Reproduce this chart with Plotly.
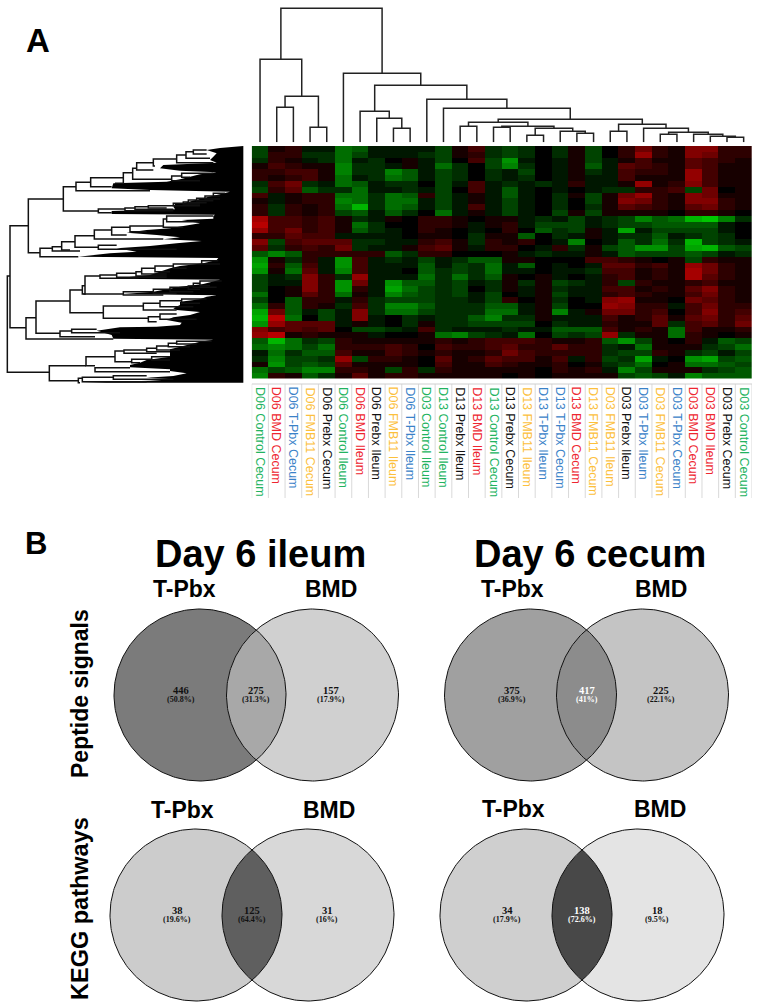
import numpy as np
import plotly.graph_objects as go

W, H = 760, 1004

# ---------- data ----------
column_labels = ["D06 Control Cecum", "D06 BMD Cecum", "D06 T-Pbx Cecum", "D06 FMB11 Cecum", "D06 Prebx Cecum",
                 "D06 Control Ileum", "D06 BMD Ileum", "D06 Prebx Ileum", "D06 FMB11 Ileum", "D06 T-Pbx Ileum",
                 "D03 Control Ileum", "D13 Control Ileum", "D13 Prebx Ileum", "D13 BMD Ileum", "D13 Control Cecum",
                 "D13 Prebx Cecum", "D13 FMB11 Ileum", "D13 T-Pbx Ileum", "D13 T-Pbx Cecum", "D13 BMD Cecum",
                 "D13 FMB11 Cecum", "D03 FMB11 Ileum", "D03 Prebx Ileum", "D03 T-Pbx Ileum", "D03 FMB11 Cecum",
                 "D03 T-Pbx Cecum", "D03 BMD Cecum", "D03 BMD Ileum", "D03 Prebx Cecum", "D03 Control Cecum"]

heat_left = [
    [-3,1,2,-1,-1,-5,-4,-1,-1,-1,-1,-3,1,3,-2],
    [-3,2,2,-2,-2,-5,-3,-1,-1,-1,-2,-3,1,2,-2],
    [-2,2,1,-1,-2,-5,-1,-2,0,1,-1,-3,0,3,-3],
    [1,3,2,1,1,-6,-2,-2,-1,1,-1,-5,-2,0,-3],
    [2,2,3,3,1,-6,-2,-2,-6,-4,-1,-3,-2,0,-2],
    [2,1,2,3,1,-5,-1,-2,-5,-4,-1,-3,-2,0,-2],
    [-2,3,5,-2,-1,-5,-4,-1,-2,-2,0,-3,-1,3,-1],
    [-3,2,4,-4,-2,-2,-5,-1,-1,-2,-1,-3,0,3,-1],
    [3,-1,1,2,2,-5,-5,-2,-5,-4,2,-3,-1,1,-1],
    [1,-1,1,2,2,-6,-5,-2,-5,-5,-1,-3,-1,1,-1],
    [2,-2,2,1,2,-5,-9,-2,-5,-4,-1,-3,-1,3,-1],
    [2,-2,2,1,2,-3,-4,-1,-4,-2,0,-5,-1,1,-1],
    [8,3,3,2,3,1,-2,-1,1,0,2,2,1,0,1],
    [9,3,3,2,3,1,-5,-2,0,0,2,2,1,-1,1],
    [7,3,5,2,3,1,-4,-2,-1,0,2,1,0,-1,0],
    [2,2,4,3,3,-1,-1,-1,-1,0,1,1,0,-2,1],
    [6,-3,3,4,4,4,-2,-2,-1,-1,2,3,1,-2,2],
    [4,-2,2,3,2,5,-2,-1,-1,1,3,4,1,-1,2],
    [-4,-6,-4,2,2,2,2,2,-4,-2,2,2,0,0,0],
    [-7,1,-2,2,-1,-7,3,-1,-2,-1,-3,-1,-2,-4,-4],
    [-8,2,-4,3,-1,-7,3,-1,-1,-1,-4,-1,-3,-2,-5],
    [-7,1,-5,4,-1,-6,3,-1,-1,0,-4,-2,-3,-2,-5],
    [-3,-1,-2,6,2,-2,7,-1,-1,-1,-5,-2,-5,-2,-4],
    [-3,-1,-1,6,2,-7,5,-1,-7,-4,-4,-2,-3,-1,-2],
    [-3,0,1,6,2,-7,2,-1,-8,-5,-3,-2,-3,0,-2],
    [-5,0,1,4,2,-5,1,-1,-6,-4,-3,-2,-3,-1,-3],
    [-3,0,-4,2,2,-1,2,-2,-3,-3,-3,-2,-2,-1,-3],
    [-5,2,-4,2,1,-2,3,-2,-6,-6,-4,-2,-2,-2,-4],
    [-8,5,-4,-1,-3,-1,6,-2,-5,-5,-3,-2,-2,-2,-5],
    [-9,9,-5,0,-3,-1,6,-1,0,-2,-1,-2,-2,-4,-6],
    [-7,7,4,4,4,-1,1,-1,0,-2,1,-2,-2,-3,-3],
    [6,3,4,3,4,0,-3,-3,-2,-1,3,-2,-1,-1,-1],
    [7,9,1,2,1,1,1,-1,0,0,1,-5,-6,-3,-2],
    [-4,-9,-5,-2,-3,2,1,1,1,1,1,2,1,2,3],
    [-5,-6,-5,-3,-5,2,2,2,3,2,0,3,2,2,3],
    [-1,-5,-2,-4,-4,3,1,1,3,2,1,2,1,1,2],
    [-2,-6,-3,-3,-2,7,-3,2,2,1,0,4,1,2,4],
    [1,-7,-3,-4,-3,4,1,1,1,1,0,3,1,1,3],
    [-5,-3,-4,-6,-6,2,2,1,-3,2,-2,2,1,1,1],
    [-6,2,1,-4,-2,1,4,1,2,2,1,1,1,1,1],
]
heat_right = [
    [-3,-2,0,-2,1,-3,0,2,5,2,1,6,6,2,2],
    [-3,-2,0,-2,1,-3,0,2,7,2,1,6,5,2,2],
    [-7,-1,0,-1,1,-3,-1,1,3,1,1,4,3,2,1],
    [-6,-2,0,-1,1,-4,-1,4,3,2,1,4,3,1,1],
    [-1,-3,0,-1,1,-2,-1,3,2,2,1,7,3,1,1],
    [-1,-2,0,-1,1,-1,-1,3,1,1,1,7,3,1,1],
    [-2,-1,-2,-1,2,-1,-1,1,7,1,2,6,3,1,1],
    [-4,-1,0,-1,0,-1,-2,-2,2,2,3,-3,5,0,1],
    [-4,-1,0,-2,1,-3,1,5,7,2,1,6,5,1,1],
    [-3,-1,0,-2,0,-3,1,6,5,2,1,6,6,2,1],
    [-3,-1,0,-2,0,-2,1,4,3,2,1,4,5,2,1],
    [-3,-1,0,-3,1,-3,1,1,1,1,0,2,2,1,0],
    [1,-1,-2,-1,-3,-1,-2,-3,-6,-4,-5,-9,-10,-6,-2],
    [2,-1,-3,-3,-3,-1,-2,-3,-3,-4,-4,-4,-4,-1,0],
    [2,0,-4,-2,-3,1,-1,-8,-1,-3,-3,-3,-3,-1,0],
    [1,-4,0,-2,-1,1,-1,-2,-2,-4,-1,-2,-3,-2,0],
    [1,2,0,-1,-6,0,-1,-4,-2,-5,-2,-9,-3,-2,-1],
    [2,0,-1,2,-2,1,-3,-4,-7,-7,-3,-8,-9,-4,-3],
    [1,-1,-2,-1,-1,1,-1,-4,-3,-3,-3,-4,-3,-1,-2],
    [1,1,0,0,0,3,3,2,1,0,1,-3,2,1,1],
    [-1,-4,0,-1,0,-1,4,4,2,3,1,7,5,2,1],
    [-1,-1,0,-1,-1,-2,3,3,1,2,1,8,5,2,1],
    [1,0,1,-1,0,-1,2,3,1,2,1,8,4,2,1],
    [1,-2,1,-3,-2,-1,2,-3,2,1,1,2,3,1,1],
    [1,-1,1,-2,-1,-1,3,3,1,2,1,4,6,2,1],
    [0,-1,1,-3,-1,-1,2,3,2,1,1,3,5,2,1],
    [2,0,1,-2,0,-1,6,7,1,1,0,5,4,2,1],
    [-4,-1,1,-3,0,0,7,6,2,2,-1,3,5,2,2],
    [-5,-1,1,-6,-1,1,5,5,2,3,0,3,6,2,3],
    [-2,-2,1,-1,-1,-1,3,1,2,4,1,4,5,2,4],
    [-3,-3,0,-2,-1,-1,2,1,1,4,-2,3,4,2,5],
    [-2,-1,-1,-4,-4,-4,3,1,2,1,-5,3,1,1,2],
    [-1,-5,0,-3,-2,-3,7,-2,1,1,-5,2,1,0,1],
    [3,3,2,1,1,2,-4,-7,-3,1,0,2,-1,-4,-3],
    [4,2,2,4,2,2,-2,-1,-5,1,1,1,-2,-3,-5],
    [5,3,2,2,2,2,-2,-3,-3,2,1,-2,-3,-1,-3],
    [3,3,1,3,-1,2,-3,-2,-8,-1,0,-7,-8,-3,-4],
    [2,1,1,2,0,1,-2,-3,-5,0,1,-5,-5,-4,-3],
    [1,1,0,2,1,2,-1,-6,-3,1,1,1,-2,-3,-4],
    [0,1,0,1,1,1,1,-3,-4,-3,-1,-6,-4,-4,-4],
]

# column tree: [height, left, right]; integers are leaves
column_tree = [134,
    [83, 0, [46, [35, 1, 2], [15, 3, 4]]],
    [69, 5,
        [57,
            [31, 6, [24, 7, [14, 8, 9]]],
            [43, 10,
                [34, 11,
                    [23,
                        [20, [16, 12, 13],
                             [16, [15, 14, 15], [14, [7, 16, 17], [11, 18, [9, 19, 20]]]]],
                        [18, [11, 21, 22],
                             [14, 23, [10, [8, 24, 25], [8, 26, [6, 27, [5, 28, 29]]]]]]]]]]]]

# row tree merges: parent depth, upper row, lower row, upper child depth, lower child depth
row_merges = [
    (22,408,697,30,148),(30,257,563,85,78),(85,177,338,190,120),(190,140,213,228,295),(228,127,152,272,450),
    (272,113,140,370,335),(370,98,130,398,345),(398,85,118,410,515),(410,68,90,460,460),(460,57,78,530,465),
    (530,45,68,558,640),(558,35,55,580,630),(580,30,42,620,620),(515,108,122,545,600),(545,100,112,640,570),
    (295,207,218,375,335),(375,204,212,405,520),(405,200,208,445,520),(445,197,204,520,500),(520,190,197,550,600),
    (550,186,192,565,600),(565,180,188,590,620),(590,175,182,615,640),(615,168,177,640,660),(640,160,168,675,660),
    (120,325,350,157,235),(157,320,333,185,240),(185,305,330,225,210),(225,287,322,283,295),(283,270,297,335,490),
    (335,262,285,390,380),(390,258,275,490,440),(490,237,262,500,550),(500,228,245,640,600),(295,316,328,350,530),
    (78,533,597,108,340),(108,483,580,210,180),(210,450,518,247,310),(247,437,462,255,370),(255,408,462,300,250),
    (300,405,415,350,400),(350,400,412,408,500),(408,395,408,425,500),(425,385,402,465,500),(465,378,395,520,510),
    (520,372,385,605,560),(605,362,372,655,660),(370,455,465,460,490),(460,448,460,510,530),(510,442,455,565,580),
    (565,438,448,580,600),(580,430,442,600,650),(600,423,437,665,630),(310,498,535,430,445),(430,490,510,480,530),
    (480,482,500,545,580),(545,477,490,620,600),(445,530,545,480,470),(480,522,538,530,590),(180,573,590,215,285),
    (215,568,578,290,360),(148,677,722,258,235),(258,650,677,345,285),(345,633,665,372,395),(372,630,640,440,470),
    (440,625,635,470,510),(470,618,630,505,540),(505,610,620,530,570),(530,604,612,635,590),(395,658,668,455,420),
    (455,650,660,510,510),(285,683,695,390,510),(235,715,728,247,240),(247,712,725,340,440),(340,707,718,440,520),
]
# where the densely packed row leaves begin, row by row
mass_rows = [18,24,30,40,50,60,68,75,85,92,97,103,110,118,125,130,145,150,155,
             158,165,172,180,187,192,200,208,213,222,224,
             228,236,240,250,258,265,270,278,285,292,298,303,310,318,325,335,340,350,354,
             360,370,378,385,395,405,412,416,419,
             425,432,440,448,455,462,466,
             470,478,485,495,505,510,516,525,532,540,548,555,560,562,572,585,596,599,
             605,612,620,628,640,650,660,668,675,682,688,693,700,708,713,718,722,728]
mass_depth = [730,660,620,650,640,630,650,490,480,540,650,600,570,540,500,340,335,450,690,
              675,650,620,590,560,525,520,525,335,335,645,
              640,640,545,600,550,510,440,380,470,540,490,605,530,450,350,410,330,235,655,
              650,610,540,510,480,450,380,350,660,
              640,610,540,490,460,370,650,
              620,600,540,540,520,530,600,570,520,500,545,540,470,360,290,335,340,640,
              600,570,540,510,510,510,440,420,390,390,510,510,560,520,440,520,450,240]

venn_titles = ["Day 6 ileum", "Day 6 cecum"]
venn_sets = ["T-Pbx", "BMD"]
row_titles = ["Peptide signals", "KEGG pathways"]
venn_counts = [["446", "275", "157"], ["375", "417", "225"], ["38", "125", "31"], ["34", "138", "18"]]
venn_shares = [["(50.8%)", "(31.3%)", "(17.9%)"], ["(36.9%)", "(41%)", "(22.1%)"],
               ["(19.6%)", "(64.4%)", "(16%)"], ["(17.9%)", "(72.6%)", "(9.5%)"]]

# ---------- style and layout ----------
treat_colors = {"Control": "#22b35e", "BMD": "#ee2630", "T-Pbx": "#3a82c8", "FMB11": "#fcc03c", "Prebx": "#111111"}
venn_fills = [("#7b7b7b", "#a8a8a8", "#d0d0d0"), ("#a0a0a0", "#8c8c8c", "#c4c4c4"),
              ("#cccccc", "#5f5f5f", "#d8d8d8"), ("#cfcfcf", "#484848", "#e4e4e4")]
venn_centers = [(200, 312.5, 695), (530.5, 642.5, 695), (196, 308, 915), (526, 638, 915)]
venn_text_x = [(181, 256, 331), (512, 586.5, 661), (177, 252, 327), (507, 582, 657)]
venn_text_white = [(False, False, False), (False, True, False), (False, False, False), (False, True, False)]
set_label_x = [(184, 331), (512, 661), (182.7, 329), (513, 660)]
R = 86
SANS = "Liberation Sans, Arial, sans-serif"
SERIF = "Liberation Serif, Times New Roman, serif"

def dom_x(a, b):
    return [a / W, b / W]

def dom_y(top, bottom):
    return [1 - bottom / H, 1 - top / H]

fig = go.Figure()

# heatmap
heat = [l + r for l, r in zip(heat_left, heat_right)]
fig.add_trace(go.Heatmap(
    z=heat, zmin=-11, zmax=11, showscale=False, hoverinfo="skip",
    colorscale=[[0, "#00d800"], [0.25, "#007800"], [0.4, "#003200"], [0.5, "#000000"],
                [0.6, "#320000"], [0.75, "#780000"], [1, "#dc0000"]],
    xaxis="x", yaxis="y"))

# column dendrogram
def walk(node):
    if isinstance(node, int):
        return float(node), 0.0, [], []
    h, a, b = node
    xa, ha, xs_a, ys_a = walk(a)
    xb, hb, xs_b, ys_b = walk(b)
    xs = xs_a + xs_b + [xa, xa, xb, xb, None]
    ys = ys_a + ys_b + [ha, h, h, hb, None]
    return (xa + xb) / 2, h, xs, ys

_, _, cx, cy = walk(column_tree)
fig.add_trace(go.Scatter(x=cx, y=cy, mode="lines", line=dict(color="#222222", width=1.5),
                         hoverinfo="skip", xaxis="x2", yaxis="y2", showlegend=False))

# row dendrogram: the packed leaves, then the merges
fig.add_trace(go.Scatter(x=mass_depth + [730, 730], y=mass_rows + [mass_rows[-1], mass_rows[0]],
                         mode="lines", fill="toself", fillcolor="#000000", line=dict(width=0, color="#000000"),
                         hoverinfo="skip", xaxis="x3", yaxis="y3", showlegend=False))
rx, ry = [], []
for p, u, l, cu, cl in row_merges:
    rx += [cu, p, p, cl, None]
    ry += [u, u, l, l, None]
fig.add_trace(go.Scatter(x=rx, y=ry, mode="lines", line=dict(color="#111111", width=1.5),
                         hoverinfo="skip", xaxis="x3", yaxis="y3", showlegend=False))

# venn diagrams
theta = np.linspace(0, 2 * np.pi, 241)
for (x1, x2, yc), (c1, c12, c2) in zip(venn_centers, venn_fills):
    for xc, col in ((x1, c1), (x2, c2)):
        fig.add_trace(go.Scatter(x=xc + R * np.cos(theta), y=yc + R * np.sin(theta), mode="lines", fill="toself",
                                 fillcolor=col, line=dict(width=0, color=col), hoverinfo="skip",
                                 xaxis="x4", yaxis="y4", showlegend=False))
    half = np.arccos((x2 - x1) / (2 * R))
    a = np.linspace(-half, half, 60)
    b = np.linspace(np.pi - half, np.pi + half, 60)
    fig.add_trace(go.Scatter(x=np.r_[x1 + R * np.cos(a), x2 + R * np.cos(b)],
                             y=np.r_[yc + R * np.sin(a), yc + R * np.sin(b)], mode="lines", fill="toself",
                             fillcolor=c12, line=dict(width=0, color=c12), hoverinfo="skip",
                             xaxis="x4", yaxis="y4", showlegend=False))
    for xc in (x1, x2):
        fig.add_trace(go.Scatter(x=xc + R * np.cos(theta), y=yc + R * np.sin(theta), mode="lines",
                                 line=dict(width=1, color="#111111"), hoverinfo="skip",
                                 xaxis="x4", yaxis="y4", showlegend=False))

ann = []

def note(x, y, text, size, color="#000000", family=SANS, bold=True, angle=0, xanchor="center", yanchor="middle",
         xref="x4", yref="y4"):
    ann.append(dict(x=x, y=y, xref=xref, yref=yref, text=f"<b>{text}</b>" if bold else text, showarrow=False,
                    textangle=angle, xanchor=xanchor, yanchor=yanchor,
                    font=dict(family=family, size=size, color=color), borderpad=0, borderwidth=0))

note(38, 40, "A", 33)
note(36, 543, "B", 31)
note(260, 554, venn_titles[0], 38)
note(590, 554, venn_titles[1], 38)
note(80, 694, row_titles[0], 23, angle=-90)
note(80, 909, row_titles[1], 23.5, angle=-90)

for i, (xs, ys) in enumerate(zip(set_label_x, (589, 589, 810, 809))):
    note(xs[0], ys, venn_sets[0], 23)
    note(xs[1], ys, venn_sets[1], 23)

for i in range(4):
    yc = venn_centers[i][2]
    for j in range(3):
        col = "#ffffff" if venn_text_white[i][j] else "#111111"
        note(venn_text_x[i][j], yc - 4.5, venn_counts[i][j], 10.5, col, SERIF)
        note(venn_text_x[i][j], yc + 4.5, venn_shares[i][j], 8, col, SERIF)

for i, lab in enumerate(column_labels):
    note(i, 387, lab, 12.5, treat_colors[lab.split()[1]], bold=False, angle=90, yanchor="top", xref="x", yref="y4")

# label cell borders
shapes = []
for k in range(31):
    shapes.append(dict(type="line", xref="x", yref="y4", x0=k - 0.5, x1=k - 0.5, y0=384, y1=498,
                       line=dict(color="#d9d9d9", width=1), layer="below"))
shapes.append(dict(type="line", xref="x", yref="y4", x0=-0.5, x1=29.5, y0=384, y1=384,
                   line=dict(color="#cfcfcf", width=1), layer="below"))

off = dict(visible=False, fixedrange=True)
fig.update_layout(
    width=W, height=H, margin=dict(l=0, r=0, t=0, b=0), showlegend=False,
    paper_bgcolor="#ffffff", plot_bgcolor="rgba(0,0,0,0)",
    annotations=ann, shapes=shapes,
    xaxis=dict(domain=dom_x(251.7, 752), range=[-0.5, 29.5], **off),
    yaxis=dict(domain=dom_y(146, 378.5), range=[39.5, -0.5], **off),
    xaxis2=dict(domain=dom_x(251.7, 752), range=[-0.5, 29.5], anchor="y2", **off),
    yaxis2=dict(domain=dom_y(0, 142.3), range=[0, 142.3], anchor="x2", **off),
    xaxis3=dict(domain=dom_x(0, 250), range=[0, 750], anchor="y3", **off),
    yaxis3=dict(domain=dom_y(140, 385), range=[735, 0], anchor="x3", **off),
    xaxis4=dict(domain=[0, 1], range=[0, W], anchor="y4", **off),
    yaxis4=dict(domain=[0, 1], range=[H, 0], anchor="x4", **off),
)

fig.write_html("out.html", config=dict(displayModeBar=False),
               post_script="document.body.style.margin='0';document.body.style.overflow='hidden';")
